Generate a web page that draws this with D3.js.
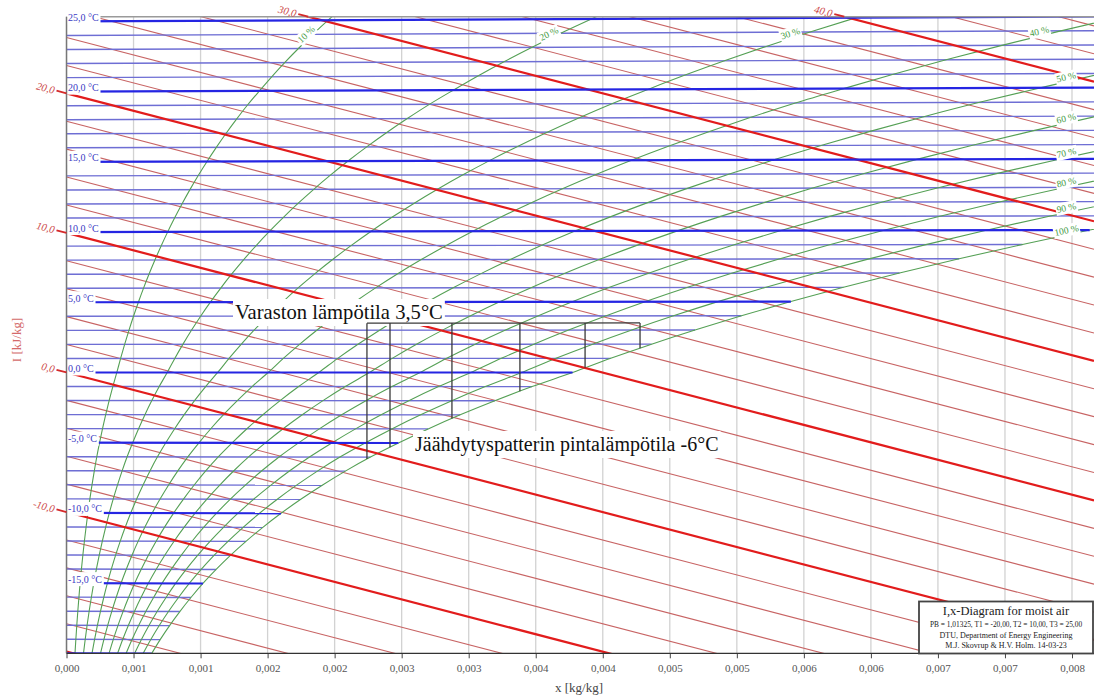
<!DOCTYPE html>
<html>
<head>
<meta charset="utf-8">
<script src="https://cdn.jsdelivr.net/npm/d3@7"></script>
<style>
  body { margin: 0; background: #fff; }
  svg { display: block; }
  text { font-family: "Liberation Serif", "Times New Roman", serif; }
</style>
</head>
<body>
<svg id="chart" width="1094" height="697"></svg>
<script>
// I,x (Mollier) diagram for moist air at PB = 1,01325 bar

const pressure = 101325; // Pa

// Isotherms drawn, °C
const temperatures = [-20,-19,-18,-17,-16,-15,-14,-13,-12,-11,-10,-9,-8,-7,-6,-5,-4,-3,-2,-1,
                      0,1,2,3,4,5,6,7,8,9,10,11,12,13,14,15,16,17,18,19,20,21,22,23,24,25];

// Saturation vapour pressure table (over ice below 0 °C, over water above)
const satTemps = [-20,-19,-18,-17,-16,-15,-14,-13,-12,-11,-10,-9,-8,-7,-6,-5,-4,-3,-2,-1,
                  0,1,2,3,4,5,6,7,8,9,10,11,12,13,14,15,16,17,18,19,20,21,22,23,24,25,26];
const satPressure = [103.3,113.7,125.1,137.5,151.0,165.5,181.5,198.8,217.6,238.0,
                     260.0,283.9,309.8,337.7,368.0,401.7,437.5,476.1,517.8,562.6,
                     611.2,657.0,705.9,758.0,813.5,872.6,935.4,1002.2,1073.1,1148.4,
                     1228.2,1312.9,1402.6,1497.6,1598.2,1704.6,1817.2,1936.2,2062.0,2194.9,
                     2338.8,2487.0,2644.0,2810.0,2985.0,3169.0,3363.0];

// Lines of constant enthalpy, kJ/kg
const enthalpies = [-20,-18,-16,-14,-12,-10,-8,-6,-4,-2,0,2,4,6,8,10,12,14,16,18,
                    20,22,24,26,28,30,32,34,36,38,40,42,44];

// Relative humidity curves
const humidities = [0.1,0.2,0.3,0.4,0.5,0.6,0.7,0.8,0.9,1.0];
const humidityLabels = ["10 %","20 %","30 %","40 %","50 %","60 %","70 %","80 %","90 %","100 %"];

// x axis ticks
const xTicks = [0,0.0005,0.001,0.0015,0.002,0.0025,0.003,0.0035,0.004,0.0045,0.005,0.0055,0.006,0.0065,0.007,0.0075];
const xTickLabels = ["0,000","0,001","0,001","0,002","0,002","0,003","0,003","0,004","0,004",
                     "0,005","0,005","0,006","0,006","0,007","0,007","0,008"];

// Cold store process: storage temperature, coil surface temperature and moisture contents
const storageTemp = 3.5;
const coilTemp = -6;
const processX = [0.002241, 0.002413, 0.002875, 0.003382, 0.003868, 0.004278];

const legendLines = ["I,x-Diagram for moist air",
                     "PB = 1,01325, T1 = -20,00, T2 = 10,00, T3 = 25,00",
                     "DTU, Department of Energy Engineering",
                     "M.J. Skovrup & H.V. Holm. 14-03-23"];

// ---------------------------------------------------------------------------
const W = 1094, H = 697;
const svg = d3.select("#chart");

const x = d3.scaleLinear().domain([0, 0.0075]).range([66.5, 1072]);
const y = d3.scaleLinear().domain([-20.12, 25.49]).range([653.3, 16.7]);
const xMax = x.invert(W);
const plotL = x.range()[0], plotT = y.range()[1], plotB = y.range()[0];

// moisture content at partial saturation
const moist = (ps, phi) => 0.622 * phi * ps / (pressure - phi * ps);
// skewed ordinate (I - r0*x) along an isotherm and along an isenthalp
const isoY = (t, xv) => 1.006 * t + 1.86 * t * xv;
const enthY = (I, xv) => I - 2501 * xv;
const psOf = t => satPressure[satTemps.indexOf(t)];
const comma = (v, d) => v.toFixed(d).replace(".", ",");

// temperature on the saturation curve for a given moisture content
function satTempAt(xv) {
  for (let i = 0; i < satTemps.length - 1; i++) {
    const a = moist(satPressure[i], 1), b = moist(satPressure[i + 1], 1);
    if (xv >= a && xv <= b) return satTemps[i] + (xv - a) / (b - a);
  }
  return satTemps[satTemps.length - 1];
}

svg.append("defs").append("clipPath").attr("id", "plotArea")
  .append("rect").attr("x", plotL).attr("y", plotT).attr("width", W - plotL).attr("height", plotB - plotT);

const plot = svg.append("g").attr("clip-path", "url(#plotArea)");
const line = d3.line();

// vertical grid
plot.append("g").selectAll("line").data(xTicks).join("line")
  .attr("x1", d => x(d)).attr("x2", d => x(d))
  .attr("y1", plotT).attr("y2", plotB)
  .attr("stroke", "#d2d2d2").attr("stroke-width", 1.3);

const enthSeg = I => [[x(0), y(enthY(I, 0))], [x(xMax), y(enthY(I, xMax))]];
const isoSeg = t => {
  const xe = Math.min(moist(psOf(t), 1), xMax);
  return [[x(0), y(isoY(t, 0))], [x(xe), y(isoY(t, xe))]];
};

// thin isenthalps
plot.append("g").selectAll("path").data(enthalpies.filter(I => I % 10 !== 0)).join("path")
  .attr("d", I => line(enthSeg(I)))
  .attr("fill", "none").attr("stroke", "#c86464").attr("stroke-width", 1.1);

// thin isotherms
plot.append("g").selectAll("path").data(temperatures.filter(t => t % 5 !== 0)).join("path")
  .attr("d", t => line(isoSeg(t)))
  .attr("fill", "none").attr("stroke", "#6e6ed4").attr("stroke-width", 1.4);

// relative humidity curves
const rhLine = d3.line().curve(d3.curveCatmullRom.alpha(0.5));
const rhPoints = phi => satTemps.map((t, i) => {
  const xv = moist(satPressure[i], phi);
  return [x(xv), y(isoY(t, xv))];
});
const rhPaths = plot.append("g").selectAll("path").data(humidities).join("path")
  .attr("d", phi => rhLine(rhPoints(phi)))
  .attr("fill", "none").attr("stroke", "#55a055").attr("stroke-width", 1.1);

// thick isenthalps
plot.append("g").selectAll("path").data(enthalpies.filter(I => I % 10 === 0)).join("path")
  .attr("d", I => line(enthSeg(I)))
  .attr("fill", "none").attr("stroke", "#e21c1c").attr("stroke-width", 2.2);

// thick isotherms
plot.append("g").selectAll("path").data(temperatures.filter(t => t % 5 === 0)).join("path")
  .attr("d", t => line(isoSeg(t)))
  .attr("fill", "none").attr("stroke", "#2525e2").attr("stroke-width", 2.2);

// frame
svg.append("line").attr("x1", plotL).attr("x2", W).attr("y1", plotT).attr("y2", plotT)
  .attr("stroke", "#9a9a9a").attr("stroke-width", 1.5);

// label with white box behind it
function boxedLabel(parent, str, px, py, angle, opts) {
  const g = parent.append("g").attr("transform", `translate(${px},${py}) rotate(${angle})`);
  const rect = g.append("rect").attr("fill", "#fff");
  const t = g.append("text").text(str)
    .attr("text-anchor", opts.anchor || "middle")
    .attr("dy", opts.dy || 0)
    .attr("font-size", opts.size)
    .attr("fill", opts.color);
  if (opts.italic) t.attr("font-style", "italic");
  const b = t.node().getBBox();
  const p = opts.pad == null ? 1 : opts.pad;
  rect.attr("x", b.x - p).attr("y", b.y - p).attr("width", b.width + 2 * p).attr("height", b.height + 2 * p);
  return g;
}

const labels = svg.append("g");

// isotherm labels
temperatures.filter(t => t % 5 === 0 && t > -20).forEach(t => {
  boxedLabel(labels, comma(t, 1) + " °C", 68, y(isoY(t, 0)) - 0.5, 0,
    { anchor: "start", size: "10px", color: "#3a3ac4", pad: 1.5 });
});

// relative humidity labels along their curves
rhPaths.each(function(phi, i) {
  const node = this, L = node.getTotalLength();
  const byY = i < 3;
  const target = byY ? 38 : (i === 3 ? 1040 : 1067);
  let s = 0;
  for (; s < L; s += 0.5) {
    const p = node.getPointAtLength(s);
    if (byY ? p.y <= target : p.x >= target) break;
  }
  const p = node.getPointAtLength(s);
  const p0 = node.getPointAtLength(Math.max(0, s - 4)), p1 = node.getPointAtLength(Math.min(L, s + 4));
  const ang = Math.atan2(p1.y - p0.y, p1.x - p0.x) * 180 / Math.PI;
  boxedLabel(labels, humidityLabels[i], p.x, p.y, ang,
    { anchor: "middle", dy: "-0.15em", size: "9.5px", color: "#3f9a3f", pad: 1 });
});

// left axis line
svg.append("line").attr("x1", plotL).attr("x2", plotL).attr("y1", plotT).attr("y2", plotB)
  .attr("stroke", "#777").attr("stroke-width", 1.5);

// enthalpy labels on the left axis and along the top edge
const slope = (y(enthY(0, 0.001)) - y(0)) / (x(0.001) - x(0));
const enthAngle = Math.atan(slope) * 180 / Math.PI;
const enthAxis = svg.append("g");
enthalpies.filter(I => I % 10 === 0).forEach(I => {
  let ex, ey;
  if (I > y.domain()[0] + 1 && I <= y.domain()[1]) {
    ex = plotL; ey = y(I);
  } else if (I > y.domain()[1]) {
    const xv = (I - y.domain()[1]) / 2501;
    if (xv > xMax) return;
    ex = x(xv); ey = plotT;
  } else return;
  enthAxis.append("line")
    .attr("x1", ex - 10).attr("y1", ey - 10 * slope).attr("x2", ex).attr("y2", ey)
    .attr("stroke", "#d42a2a").attr("stroke-width", 1.8);
  enthAxis.append("text").text(comma(I, 1))
    .attr("transform", `translate(${ex - 12},${ey - 12 * slope}) rotate(${enthAngle})`)
    .attr("text-anchor", "end").attr("dy", "0.35em")
    .attr("font-size", "10.5px").attr("font-style", "italic").attr("fill", "#cc4848");
});

// bottom axis
const xAxis = d3.axisBottom(x).tickValues(xTicks).tickFormat((d, i) => xTickLabels[i])
  .tickSize(5).tickSizeOuter(0).tickPadding(6);
const ax = svg.append("g").attr("transform", `translate(0,${plotB})`).call(xAxis);
ax.select(".domain").remove();
ax.selectAll(".tick line").attr("stroke", "#444");
ax.selectAll(".tick text").attr("font-family", "Liberation Serif, Times New Roman, serif")
  .attr("font-size", "11px").attr("fill", "#555");
svg.append("line").attr("x1", plotL).attr("x2", W).attr("y1", plotB).attr("y2", plotB)
  .attr("stroke", "#333").attr("stroke-width", 1.2);

svg.append("text").text("x [kg/kg]")
  .attr("x", 579).attr("y", 692).attr("text-anchor", "middle")
  .attr("font-size", "13px").attr("fill", "#444");
svg.append("text").text("I [kJ/kg]")
  .attr("transform", "translate(21,340) rotate(-90)").attr("text-anchor", "middle")
  .attr("font-size", "13px").attr("fill", "#d46a6a");

// annotations
const notes = svg.append("g");
boxedLabel(notes, `Varaston lämpötila ${comma(storageTemp, 1)}°C`, 235, 319, 0,
  { anchor: "start", size: "20.6px", color: "#111", pad: 2 });
boxedLabel(notes, `Jäähdytyspatterin pintalämpötila ${coilTemp}°C`, 415, 451, 0,
  { anchor: "start", size: "20px", color: "#111", pad: 2 });

// process lines: storage isotherm and drops to the saturation curve
const proc = svg.append("g").attr("fill", "none").attr("stroke", "#3a3a3a").attr("stroke-width", 1.3);
const xa = processX[0], xb = processX[processX.length - 1];
proc.append("path").attr("d", line([[x(xa), y(isoY(storageTemp, xa))], [x(xb), y(isoY(storageTemp, xb))]]));
processX.forEach(xv => {
  const ts = satTempAt(xv);
  proc.append("path").attr("d", line([[x(xv), y(isoY(storageTemp, xv))], [x(xv), y(isoY(ts, xv))]]));
});

// legend box
const lg = svg.append("g");
lg.append("rect").attr("x", 919).attr("y", 601.5).attr("width", 174).attr("height", 52)
  .attr("fill", "#fff").attr("stroke", "#444").attr("stroke-width", 1.8);
const legendSizes = ["12.5px", "7.4px", "8px", "8px"];
const legendY = [615, 627, 637.5, 647.5];
legendLines.forEach((s, i) => {
  lg.append("text").text(s).attr("x", 1006).attr("y", legendY[i])
    .attr("text-anchor", "middle").attr("font-size", legendSizes[i]).attr("fill", "#222");
});
</script>
</body>
</html>
